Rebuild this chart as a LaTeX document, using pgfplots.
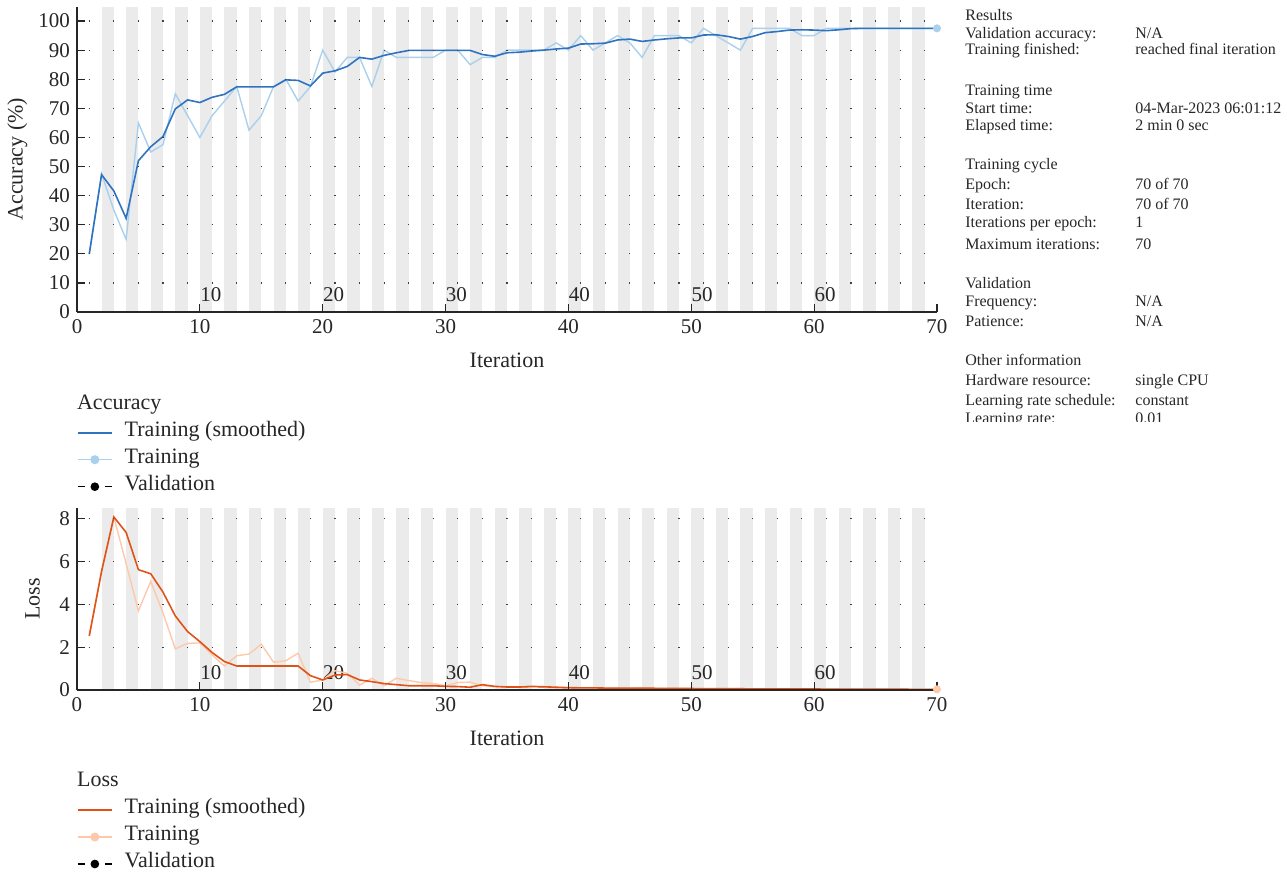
\documentclass[border=0pt]{standalone}
\usepackage{fontspec}
\setmainfont{Liberation Serif}
\usepackage{pgfplots}
\pgfplotsset{compat=1.18}
\usepackage{pgfplotstable}

\definecolor{accS}{HTML}{2F73C0}
\definecolor{accL}{HTML}{A9D0EC}
\definecolor{lossS}{HTML}{DF5318}
\definecolor{lossL}{HTML}{FDC9AB}
\definecolor{stripe}{HTML}{EBEBEB}
\definecolor{txt}{HTML}{262626}

\pgfplotstableread{
it sm raw
1 20 20
2 47.2 47.5
3 41.6 35
4 32.2 25
5 52.0 65
6 56.8 55
7 60.3 57.5
8 69.8 75
9 72.9 67.5
10 72.0 60
11 73.8 67.5
12 74.8 72.5
13 77.4 77.5
14 77.4 62.5
15 77.4 67.5
16 77.4 77.5
17 79.8 80
18 79.6 72.5
19 77.7 77.5
20 82.1 90
21 82.9 82.5
22 84.4 87.5
23 87.5 87.5
24 86.9 77.5
25 88.2 90
26 89.1 87.5
27 89.9 87.5
28 89.9 87.5
29 89.9 87.5
30 89.9 90
31 89.9 90
32 89.9 85
33 88.5 87.5
34 87.9 87.5
35 89.1 90
36 89.3 90
37 89.7 90
38 90.0 90
39 90.4 92.5
40 90.7 90
41 92.1 95
42 92.2 90
43 92.4 92.5
44 93.5 95
45 93.8 92.5
46 93.0 87.5
47 93.5 95
48 93.9 95
49 94.2 95
50 94.2 92.5
51 95.2 97.5
52 95.3 95
53 94.7 92.5
54 93.8 90
55 94.7 97.5
56 96.0 97.5
57 96.4 97.5
58 96.9 97.5
59 97.0 95
60 96.9 95
61 96.7 97.5
62 97.0 97.5
63 97.4 97.5
64 97.5 97.5
65 97.5 97.5
66 97.5 97.5
67 97.5 97.5
68 97.5 97.5
69 97.5 97.5
70 97.5 97.5
}\acctable

\pgfplotstableread{
it sm raw
1 2.53 2.53
2 5.54 5.54
3 8.08 8.08
4 7.36 5.9
5 5.62 3.7
6 5.43 5.07
7 4.57 3.6
8 3.46 1.92
9 2.73 2.18
10 2.26 2.2
11 1.75 1.64
12 1.33 1.12
13 1.12 1.6
14 1.12 1.68
15 1.12 2.14
16 1.12 1.3
17 1.12 1.37
18 1.12 1.72
19 0.67 0.36
20 0.47 0.47
21 0.70 0.9
22 0.72 0.78
23 0.47 0.23
24 0.39 0.55
25 0.30 0.2
26 0.25 0.55
27 0.20 0.44
28 0.20 0.35
29 0.20 0.3
30 0.17 0.2
31 0.16 0.35
32 0.13 0.37
33 0.25 0.2
34 0.17 0.15
35 0.14 0.15
36 0.14 0.12
37 0.16 0.2
38 0.15 0.12
39 0.13 0.1
40 0.11 0.08
41 0.10 0.1
42 0.10 0.09
43 0.09 0.07
44 0.09 0.08
45 0.08 0.06
46 0.08 0.09
47 0.08 0.07
48 0.07 0.06
49 0.07 0.07
50 0.07 0.06
51 0.06 0.05
52 0.06 0.06
53 0.06 0.05
54 0.06 0.07
55 0.05 0.04
56 0.05 0.05
57 0.05 0.04
58 0.05 0.05
59 0.05 0.05
60 0.05 0.04
61 0.04 0.04
62 0.04 0.05
63 0.04 0.04
64 0.04 0.03
65 0.04 0.04
66 0.04 0.03
67 0.04 0.04
68 0.03 0.03
69 0.03 0.03
70 0.03 0.03
}\losstable

\tikzset{epochlab/.style={anchor=base west, inner sep=0pt, font=\fontsize{10.5}{12}\selectfont, text=txt}}

\pgfplotsset{
  progress/.style={
    scale only axis, width=430pt, xmin=0, xmax=70,
    axis x line*=bottom, axis y line*=left,
    tick align=inside, major tick length=4pt,
    xtick={0,10,20,30,40,50,60,70},
    axis line style={black!85, line width=0.6pt},
    every tick/.style={black!85, line width=0.6pt},
    ymajorgrids,
    major grid style={black!75, line width=0.6pt, dash pattern=on 0.6pt off 11.686pt, dash phase=6.443pt},
    tick label style={font=\fontsize{10.5}{12}\selectfont, text=txt},
    label style={font=\fontsize{11}{13}\selectfont, text=txt},
    /pgf/number format/assume math mode=true,
    axis on top,
    legend cell align=left,
    legend style={draw=none, fill=none, inner sep=0pt, outer sep=0pt,
      row sep=0pt, column sep=6pt, font=\fontsize{11}{13}\selectfont, text=txt,
      nodes={inner sep=0pt, text height=8.5pt, text depth=5pt}},
    xlabel={Iteration},
    xlabel style={at={(axis description cs:0.5,0)}, anchor=base, yshift=-27.65pt},
  },
}

\begin{document}
\begin{tikzpicture}
\useasboundingbox (0pt,0pt) rectangle (643.5pt,-436.5pt);

% ---------- Accuracy ----------
\begin{axis}[progress,
  at={(38.5pt,-156pt)}, anchor=south west,
  height=152.75pt, ymin=0, ymax=105, ytick={0,10,20,30,40,50,60,70,80,90,100},
  ylabel={Accuracy (\%)},
  ylabel style={at={(axis description cs:-0.0692,0.5)}, anchor=center},
  legend style={at={(axis description cs:0,-0.3509)}, anchor=north west},
]
\pgfplotsinvokeforeach{2,4,...,68}{\fill[stripe] (axis cs:#1,0) rectangle (axis cs:#1+1,105);}
\pgfplotsinvokeforeach{10,20,...,60}{\node[epochlab] at (axis cs:#1,3.5) {#1};}
\addplot[accL, line width=0.7pt, forget plot] table[x=it, y=raw] {\acctable};
\addplot[accS, line width=0.8pt, forget plot] table[x=it, y=sm] {\acctable};
\addplot[only marks, mark=*, mark size=1.8pt, accL, forget plot] coordinates {(70,97.5)};
\addlegendimage{accS, line width=0.8pt}
\addlegendentry{Training (smoothed)}
\addlegendimage{accL, line width=0.7pt, mark=*, mark size=1.9pt}
\addlegendentry{Training}
\addlegendimage{black, line width=0.7pt, dash pattern=on 3.5pt off 10pt, mark=*, mark size=1.8pt, mark options={solid}}
\addlegendentry{Validation}
\end{axis}

% ---------- Loss ----------
\begin{axis}[progress,
  at={(38.5pt,-345pt)}, anchor=south west,
  height=91pt, ymin=0, ymax=8.5, ytick={0,2,4,6,8},
  ylabel={Loss},
  ylabel style={at={(axis description cs:-0.0517,0.5)}, anchor=center},
  legend style={at={(axis description cs:0,-0.5852)}, anchor=north west},
]
\pgfplotsinvokeforeach{2,4,...,68}{\fill[stripe] (axis cs:#1,0) rectangle (axis cs:#1+1,8.5);}
\pgfplotsinvokeforeach{10,20,...,60}{\node[epochlab] at (axis cs:#1,0.5) {#1};}
\addplot[lossL, line width=0.7pt, forget plot] table[x=it, y=raw] {\losstable};
\addplot[lossS, line width=0.8pt, forget plot] table[x=it, y=sm] {\losstable};
\addplot[only marks, mark=*, mark size=1.8pt, lossL, forget plot] coordinates {(70,0.03)};
\addlegendimage{lossS, line width=0.8pt}
\addlegendentry{Training (smoothed)}
\addlegendimage{lossL, line width=0.7pt, mark=*, mark size=1.9pt}
\addlegendentry{Training}
\addlegendimage{black, line width=0.7pt, dash pattern=on 3.5pt off 10pt, mark=*, mark size=1.8pt, mark options={solid}}
\addlegendentry{Validation}
\end{axis}

% legend titles
\node[anchor=base west, inner sep=0pt, font=\fontsize{11}{13}\selectfont, text=txt] at (38.35pt,-204.65pt) {Accuracy};
\node[anchor=base west, inner sep=0pt, font=\fontsize{11}{13}\selectfont, text=txt] at (38.35pt,-393.35pt) {Loss};

% info panel
\begin{scope}[every node/.style={anchor=base west, inner sep=0pt, font=\fontsize{8}{9.6}\selectfont, text=txt}]
\clip (475pt,0pt) rectangle (643.5pt,-210.5pt);
\node at (482.5pt,-10.15pt) {Results};
\node at (482.5pt,-19.15pt) {Validation accuracy:};
\node at (567.5pt,-19.15pt) {N/A};
\node at (482.5pt,-27.15pt) {Training finished:};
\node at (567.5pt,-27.15pt) {reached final iteration};
\node at (482.5pt,-47.5pt) {Training time};
\node at (482.5pt,-56.65pt) {Start time:};
\node at (567.5pt,-56.65pt) {04-Mar-2023 06:01:12};
\node at (482.5pt,-65pt) {Elapsed time:};
\node at (567.5pt,-65pt) {2 min 0 sec};
\node at (482.5pt,-84.65pt) {Training cycle};
\node at (482.5pt,-94.5pt) {Epoch:};
\node at (567.5pt,-94.5pt) {70 of 70};
\node at (482.5pt,-104.5pt) {Iteration:};
\node at (567.5pt,-104.5pt) {70 of 70};
\node at (482.5pt,-113.85pt) {Iterations per epoch:};
\node at (567.5pt,-113.85pt) {1};
\node at (482.5pt,-124.65pt) {Maximum iterations:};
\node at (567.5pt,-124.65pt) {70};
\node at (482.5pt,-144.15pt) {Validation};
\node at (482.5pt,-153.35pt) {Frequency:};
\node at (567.5pt,-153.35pt) {N/A};
\node at (482.5pt,-163pt) {Patience:};
\node at (567.5pt,-163pt) {N/A};
\node at (482.5pt,-182.5pt) {Other information};
\node at (482.5pt,-192.5pt) {Hardware resource:};
\node at (567.5pt,-192.5pt) {single CPU};
\node at (482.5pt,-202.85pt) {Learning rate schedule:};
\node at (567.5pt,-202.85pt) {constant};
\node at (482.5pt,-211.65pt) {Learning rate:};
\node at (567.5pt,-211.65pt) {0.01};
\end{scope}
\end{tikzpicture}
\end{document}
